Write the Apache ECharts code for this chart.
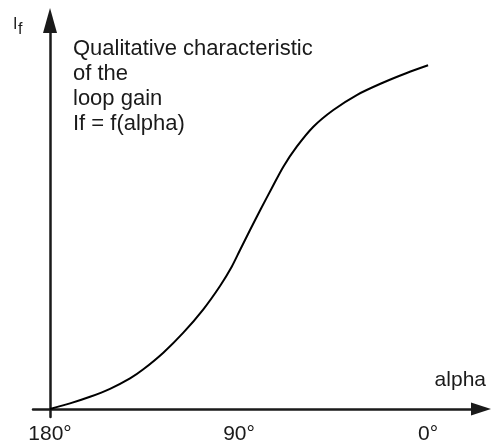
<!DOCTYPE html>
<html>
<head>
<meta charset="utf-8">
<script src="https://cdn.jsdelivr.net/npm/echarts@6/dist/echarts.min.js"></script>
<style>
html,body{margin:0;padding:0;background:#fff;}
#chart{width:493px;height:444px;}
</style>
</head>
<body>
<div id="chart"></div>
<script>
// alpha in degrees (180 on the left, 0 on the right)
var alphaDeg = [180, 170.48, 160.95, 151.43, 141.90, 135.57, 126.05, 116.52, 107.00, 99.05, 93.48, 89.52, 84.76, 79.52, 74.43, 68.90, 62.52, 54.62, 45.10, 33.95, 21.29, 10.14, 0];
// loop gain If (qualitative units, 0..100)
var loopGain = [0, 1.44, 3.14, 5.20, 7.88, 10.22, 14.49, 19.64, 25.66, 31.66, 36.63, 40.93, 46.07, 51.61, 56.81, 62.37, 67.52, 72.66, 76.96, 80.82, 84.04, 86.49, 88.47];
// tick labels
var tickAlpha = [180, 90, 0];
var tickText = ['180°', '90°', '0°'];
var textLines = ['Qualitative characteristic', 'of the', 'loop gain', 'If = f(alpha)'];

var FONT = '"Liberation Sans", Arial, sans-serif';
var INK = '#1a1a1a';

// x position measured as (180 - alpha) so 180° sits at x = 0
var seriesData = alphaDeg.map(function (a, i) { return [180 - a, loopGain[i]]; });
var tickPos = tickAlpha.map(function (a) { return 180 - a; });

var chart = echarts.init(document.getElementById('chart'), null, {renderer: 'canvas'});
chart.setOption({
  animation: false,
  backgroundColor: '#ffffff',
  grid: {left: 33, right: 12, top: 20.5, bottom: 27, containLabel: false, outerBoundsMode: 'none'},
  xAxis: {
    type: 'value',
    min: -8.1,
    max: 205.2,
    axisLine: {
      onZero: true,
      lineStyle: {color: INK, width: 2.5},
      symbol: ['none', 'triangle'],
      symbolSize: [13, 20]
    },
    axisTick: {show: false},
    splitLine: {show: false},
    axisLabel: {
      customValues: tickPos,
      margin: 7,
      color: INK,
      fontFamily: FONT,
      fontSize: 21,
      formatter: function (v) {
        var idx = tickPos.indexOf(v);
        return idx >= 0 ? tickText[idx] : '';
      }
    }
  },
  yAxis: {
    type: 'value',
    min: -2.06,
    max: 100,
    axisLine: {
      show: true,
      onZero: true,
      lineStyle: {color: INK, width: 2.5},
      symbol: ['none', 'triangle'],
      symbolSize: [14, 25]
    },
    axisTick: {show: false},
    axisLabel: {show: false},
    splitLine: {show: false}
  },
  series: [{
    type: 'line',
    data: seriesData,
    smooth: 0.3,
    showSymbol: false,
    lineStyle: {color: '#000', width: 2},
    silent: true
  }],
  graphic: [
    {
      type: 'text', left: 73, top: 36,
      style: {text: textLines.join('\n'), font: '22px ' + FONT, fill: INK, lineHeight: 25}
    },
    {
      type: 'text', x: 486, y: 380,
      style: {text: 'alpha', font: '21px ' + FONT, fill: INK, textAlign: 'right', textVerticalAlign: 'middle'}
    },
    {
      type: 'text', x: 13, y: 25,
      style: {text: 'I', font: '16px ' + FONT, fill: INK, textAlign: 'left', textVerticalAlign: 'middle'}
    },
    {
      type: 'text', x: 18, y: 30,
      style: {text: 'f', font: '16px ' + FONT, fill: INK, textAlign: 'left', textVerticalAlign: 'middle'}
    }
  ]
});
</script>
</body>
</html>
